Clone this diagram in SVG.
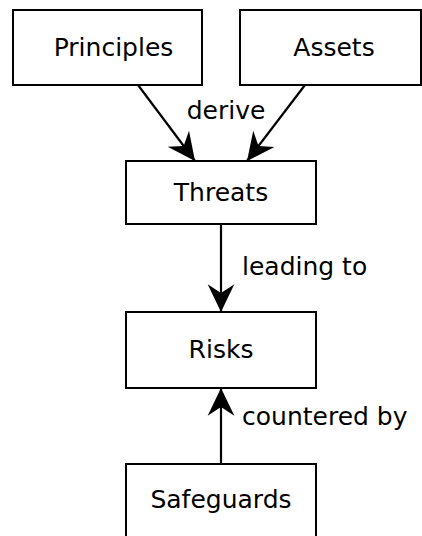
<svg xmlns="http://www.w3.org/2000/svg" width="422" height="536" viewBox="0 0 422 536">
<style>
.box{fill:#fff;stroke:#000;stroke-width:2}
.t{font-family:"DejaVu Sans",sans-serif;font-size:25px;fill:#000}
.m{text-anchor:middle}
.e{fill:none;stroke:#000;stroke-width:2.2}
</style>
<defs>
<marker id="ah" markerUnits="userSpaceOnUse" markerWidth="30" markerHeight="30" viewBox="-26 -13 27 26" refX="0" refY="0" orient="auto">
<path d="M0,0 L-25,-12 L-17,0 L-25,12 Z" fill="#000"/>
</marker>
</defs>
<rect width="422" height="536" fill="#fff"/>
<g id="connectors">
<line class="e" x1="138" y1="85" x2="195" y2="161" marker-end="url(#ah)"/>
<line class="e" x1="305" y1="85" x2="247" y2="161" marker-end="url(#ah)"/>
<line class="e" x1="221" y1="224" x2="221" y2="312" marker-end="url(#ah)"/>
<line class="e" x1="221" y1="464" x2="221" y2="388" marker-end="url(#ah)"/>
<text class="t m" x="226" y="119">derive</text>
<text class="t" x="242" y="275">leading to</text>
<text class="t" x="242" y="425">countered by</text>
</g>
<g id="principles"><rect class="box" x="13" y="10" width="189" height="75"/><text class="t m" x="113.5" y="56">Principles</text></g>
<g id="assets"><rect class="box" x="240" y="10" width="181" height="75"/><text class="t m" x="334" y="56">Assets</text></g>
<g id="threats"><rect class="box" x="126" y="161" width="190" height="63"/><text class="t m" x="221" y="201">Threats</text></g>
<g id="risks"><rect class="box" x="126" y="312" width="190" height="76"/><text class="t m" x="221" y="358">Risks</text></g>
<g id="safeguards"><rect class="box" x="126" y="464" width="190" height="80"/><text class="t m" x="221" y="508">Safeguards</text></g>
</svg>
